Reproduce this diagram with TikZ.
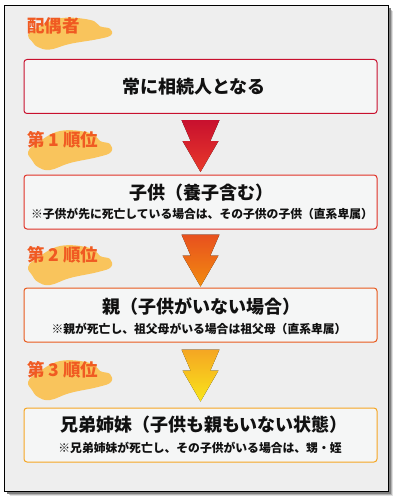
\documentclass[tikz,border=0pt]{standalone}
\usepackage{fontspec}
\setmainfont{Noto Sans CJK JP}
\definecolor{framebg}{HTML}{EEEEEE}
\definecolor{boxfill}{HTML}{F5F6F6}
\definecolor{cA}{HTML}{C8102E}
\definecolor{cB}{HTML}{E03126}
\definecolor{cC}{HTML}{E8591C}
\definecolor{cD}{HTML}{F5A623}
\definecolor{lbl}{HTML}{F05A22}
\definecolor{brush}{HTML}{F9C45C}
\definecolor{aAt}{HTML}{C8102E}
\definecolor{aAb}{HTML}{E8392A}
\definecolor{aBt}{HTML}{E8501E}
\definecolor{aBb}{HTML}{F28C10}
\definecolor{aCt}{HTML}{F5A623}
\definecolor{aCb}{HTML}{F9E51A}
\definecolor{ttl}{HTML}{111111}
\tikzset{
  stepbox/.style={draw=#1, line width=1pt, fill=boxfill, rounded corners=3pt,
    minimum width=353pt, minimum height=54pt, inner sep=0pt},
  titletext/.style={text=ttl, font=\fontsize{18}{20}\selectfont\bfseries, inner sep=0pt},
  subtext/.style={text=ttl, font=\fontsize{11.8}{13}\selectfont\bfseries, inner sep=0pt},
  ranklabel/.style={text=lbl, font=\fontsize{17.5}{20}\selectfont\bfseries, inner sep=0pt, anchor=west},
}
\newcommand\brushblob[3]{% x, y (text center), yscale
  \fill[brush, shift={(#1,#2)}, yscale=#3] plot[smooth cycle, tension=0.7] coordinates
   {(1,12) (9,4) (33,-9) (63,-7) (73,1) (83,4) (84,12) (71,17) (43,23) (23,30) (11,27) (5,20)};}
\newcommand\dblarrow[3]{% coordinate name, top color, bottom color
  \fill[top color=#2, bottom color=#3, shift={(#1)}]
    (-19,0) -- (19,0) -- (9.9,21) -- (18,21) -- (0,52) -- (-18,21) -- (-9.9,21) -- cycle;}
\begin{document}
\begin{tikzpicture}[x=1pt, y=-1pt]
\useasboundingbox (0,0) rectangle (400,500);
% shadow
\foreach \o/\op in {6/0.12,5/0.2,4/0.3} {
  \fill[black, opacity=\op] (4+\o,5+\o) rectangle (388+\o-1,491+\o-1);
}
\fill[black!50] (4+3,5+3) rectangle (388+3,491+3);
\draw[black, line width=0.8pt, fill=framebg] (4,5) rectangle (388,491);

% brush strokes
\brushblob{27}{25.5}{0.8}
\brushblob{27}{140}{1}
\brushblob{27}{255}{1}
\brushblob{27}{370}{1}

% labels
\node[ranklabel] (l0) at (27,26) {配偶者};
\node[ranklabel] (l1) at (27,140) {第 1 順位};
\node[ranklabel] (l2) at (27,255) {第 2 順位};
\node[ranklabel] (l3) at (27,370) {第 3 順位};

% boxes
\node[stepbox=cA] (b1) at (200.5,86.5) {};
\node[stepbox=cB] (b2) at (200.5,202) {};
\node[stepbox=cC] (b3) at (200.5,315) {};
\node[stepbox=cD] (b4) at (200.5,435) {};

\node[titletext] (t1) at (194,87) {常に相続人となる};
\node[titletext] (t2) at (201,193) {子供（養子含む）};
\node[subtext] (s2) at (202,214) {※子供が先に死亡している場合は、その子供の子供（直系卑属）};
\node[titletext] (t3) at (201,307) {親（子供がいない場合）};
\node[subtext] (s3) at (199,329) {※親が死亡し、祖父母がいる場合は祖父母（直系卑属）};
\node[titletext] (t4) at (204,425) {兄弟姉妹（子供も親もいない状態）};
\node[subtext] (s4) at (200,448) {※兄弟姉妹が死亡し、その子供がいる場合は、甥・姪};

% arrows
\path (b1.south) ++(0,6) coordinate (a1);
\path (b2.south) ++(0,5) coordinate (a2);
\path (b3.south) ++(0,7) coordinate (a3);
\dblarrow{a1}{aAt}{aAb}
\dblarrow{a2}{aBt}{aBb}
\dblarrow{a3}{aCt}{aCb}
\end{tikzpicture}
\end{document}
